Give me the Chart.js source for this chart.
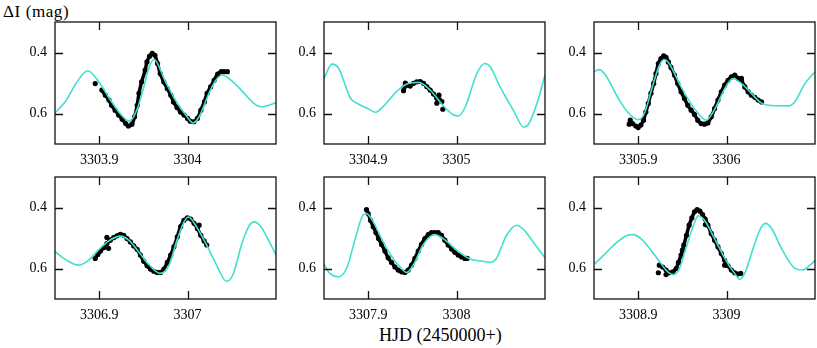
<!DOCTYPE html>
<html>
<head>
<meta charset="utf-8">
<script src="https://cdn.jsdelivr.net/npm/chart.js@4.4.1/dist/chart.umd.min.js"></script>
<style>
  html, body { margin: 0; padding: 0; background: #fff; }
  #wrap { position: relative; width: 817px; height: 348px; overflow: hidden; background: #fff; }
  #wrap canvas { position: absolute; }
  .lbl { position: absolute; font-family: 'Liberation Serif', 'Times New Roman', serif; color: #000; line-height: 1; white-space: nowrap; }
</style>
</head>
<body>
<div id="wrap">
  <div class="lbl" style="left:3px; top:3px; font-size:17px; letter-spacing:0.6px;">ΔI (mag)</div>
  <div class="lbl" style="left:379px; top:326px; font-size:18px;">HJD (2450000+)</div>
</div>
<script>
// Panel x ranges (HJD - 2450000), each 0.25 d wide
const panelStart = [3303.85, 3304.85, 3305.85, 3306.85, 3307.85, 3308.85];
const xTickLabels = [
    ['3303.9', '3304'], ['3304.9', '3305'], ['3305.9', '3306'],
    ['3306.9', '3307'], ['3307.9', '3308'], ['3308.9', '3309']
];
const yTickLabels = ['0.4', '0.6'];

// Model light curve (cyan), one list per panel
const modelHJD = [
    [3303.85, 3303.862, 3303.875, 3303.887, 3303.9, 3303.9125, 3303.925, 3303.934, 3303.9425, 3303.95, 3303.956, 3303.962, 3303.975, 3303.9875, 3304.0, 3304.006, 3304.0125, 3304.025, 3304.032, 3304.039, 3304.05, 3304.0625, 3304.075, 3304.083, 3304.1],
    [3304.85, 3304.859, 3304.8666, 3304.880, 3304.887, 3304.899, 3304.908, 3304.917, 3304.932, 3304.944, 3304.957, 3304.970, 3304.985, 3304.996, 3305.002, 3305.010, 3305.023, 3305.032, 3305.038, 3305.049, 3305.064, 3305.076, 3305.081, 3305.091, 3305.1],
    [3305.85, 3305.856, 3305.863, 3305.8765, 3305.888, 3305.900, 3305.907, 3305.916, 3305.924, 3305.9295, 3305.935, 3305.9485, 3305.9636, 3305.977, 3305.986, 3305.998, 3306.007, 3306.017, 3306.028, 3306.039, 3306.051, 3306.070, 3306.077, 3306.0886, 3306.1],
    [3306.85, 3306.865, 3306.8765, 3306.888, 3306.899, 3306.9106, 3306.924, 3306.9334, 3306.9447, 3306.956, 3306.969, 3306.979, 3306.988, 3306.996, 3307.001, 3307.009, 3307.0206, 3307.032, 3307.044, 3307.051, 3307.062, 3307.070, 3307.0755, 3307.083, 3307.0925, 3307.1],
    [3307.85, 3307.8566, 3307.866, 3307.8755, 3307.887, 3307.894, 3307.898, 3307.9057, 3307.917, 3307.928, 3307.9377, 3307.9434, 3307.951, 3307.962, 3307.9697, 3307.9754, 3307.9848, 3308.0, 3308.015, 3308.030, 3308.0376, 3308.045, 3308.0565, 3308.0678, 3308.0753, 3308.0866, 3308.1],
    [3308.85, 3308.861, 3308.8765, 3308.888, 3308.8936, 3308.903, 3308.9144, 3308.9258, 3308.9334, 3308.940, 3308.9466, 3308.954, 3308.962, 3308.968, 3308.975, 3308.9864, 3308.998, 3309.009, 3309.015, 3309.0205, 3309.030, 3309.0384, 3309.044, 3309.051, 3309.062, 3309.0755, 3309.0857, 3309.0945, 3309.1]
];
const modelMag = [
    [0.598, 0.560, 0.496, 0.460, 0.498, 0.555, 0.605, 0.625, 0.589, 0.518, 0.452, 0.423, 0.496, 0.562, 0.613, 0.631, 0.613, 0.528, 0.491, 0.474, 0.493, 0.529, 0.567, 0.578, 0.565],
    [0.485, 0.438, 0.452, 0.550, 0.566, 0.583, 0.596, 0.577, 0.528, 0.503, 0.498, 0.523, 0.575, 0.604, 0.608, 0.577, 0.468, 0.436, 0.447, 0.512, 0.588, 0.645, 0.637, 0.566, 0.474],
    [0.463, 0.456, 0.474, 0.545, 0.595, 0.620, 0.600, 0.513, 0.442, 0.423, 0.436, 0.513, 0.584, 0.622, 0.589, 0.518, 0.485, 0.502, 0.534, 0.565, 0.574, 0.575, 0.562, 0.502, 0.463],
    [0.545, 0.576, 0.589, 0.573, 0.540, 0.510, 0.494, 0.507, 0.545, 0.587, 0.616, 0.589, 0.507, 0.447, 0.431, 0.458, 0.518, 0.584, 0.642, 0.622, 0.513, 0.458, 0.447, 0.463, 0.513, 0.556],
    [0.587, 0.616, 0.627, 0.600, 0.485, 0.425, 0.420, 0.447, 0.513, 0.567, 0.600, 0.613, 0.589, 0.523, 0.496, 0.489, 0.502, 0.540, 0.569, 0.576, 0.580, 0.567, 0.491, 0.458, 0.471, 0.513, 0.565],
    [0.587, 0.556, 0.513, 0.491, 0.489, 0.502, 0.540, 0.584, 0.611, 0.620, 0.600, 0.534, 0.463, 0.427, 0.442, 0.502, 0.567, 0.616, 0.635, 0.616, 0.534, 0.469, 0.452, 0.469, 0.534, 0.595, 0.605, 0.589, 0.573]
];

// Observations (black dots), main run per panel
const obsHJD = [
    [3303.903, 3303.907, 3303.911, 3303.914, 3303.918, 3303.922, 3303.926, 3303.930, 3303.933, 3303.937, 3303.940, 3303.943, 3303.945, 3303.948, 3303.952, 3303.954, 3303.957, 3303.960, 3303.963, 3303.966, 3303.969, 3303.973, 3303.977, 3303.981, 3303.984, 3303.988, 3303.992, 3303.996, 3304.000, 3304.003, 3304.007, 3304.011, 3304.015, 3304.019, 3304.022, 3304.026, 3304.030, 3304.034, 3304.038, 3304.041, 3304.045],
    [3304.9407, 3304.9437, 3304.9475, 3304.9513, 3304.955, 3304.9588, 3304.9626, 3304.9663, 3304.9701, 3304.9739, 3304.9776, 3304.9807, 3304.9833],
    [3305.891, 3305.8936, 3305.8974, 3305.900, 3305.903, 3305.906, 3305.9087, 3305.9114, 3305.9144, 3305.9175, 3305.9201, 3305.9228, 3305.9258, 3305.9288, 3305.9315, 3305.9341, 3305.9371, 3305.941, 3305.9447, 3305.9485, 3305.9523, 3305.9561, 3305.9599, 3305.9636, 3305.9674, 3305.9712, 3305.975, 3305.9788, 3305.9826, 3305.9864, 3305.9902, 3305.994, 3305.9978, 3306.0016, 3306.0054, 3306.0092, 3306.013, 3306.0168, 3306.0206, 3306.0244, 3306.0281, 3306.0319, 3306.0357, 3306.0395],
    [3306.8955, 3306.8985, 3306.9015, 3306.905, 3306.9087, 3306.9125, 3306.9163, 3306.9201, 3306.9239, 3306.9277, 3306.9315, 3306.9353, 3306.9391, 3306.9429, 3306.9466, 3306.9504, 3306.9542, 3306.958, 3306.9618, 3306.9656, 3306.9694, 3306.9732, 3306.977, 3306.9808, 3306.9845, 3306.9883, 3306.9921, 3306.9959, 3306.9997, 3307.0035, 3307.0073, 3307.0111, 3307.0149, 3307.0187, 3307.0217],
    [3307.8981, 3307.9, 3307.9026, 3307.9057, 3307.9087, 3307.9117, 3307.9151, 3307.9189, 3307.9226, 3307.9264, 3307.9302, 3307.9339, 3307.9377, 3307.9415, 3307.9452, 3307.949, 3307.9528, 3307.9566, 3307.9603, 3307.9641, 3307.9679, 3307.9716, 3307.9754, 3307.9792, 3307.9829, 3307.9867, 3307.9905, 3307.9943, 3307.998, 3308.0018, 3308.0056, 3308.0093, 3308.012],
    [3308.9239, 3308.9277, 3308.9315, 3308.9353, 3308.9391, 3308.9429, 3308.9455, 3308.9485, 3308.9516, 3308.9546, 3308.9576, 3308.9607, 3308.9637, 3308.9667, 3308.9698, 3308.9728, 3308.9758, 3308.9789, 3308.9826, 3308.9864, 3308.9902, 3308.994, 3308.9978, 3309.0016, 3309.0054, 3309.0092, 3309.013, 3309.016]
];
const obsMag = [
    [0.523, 0.540, 0.556, 0.573, 0.589, 0.605, 0.619, 0.633, 0.641, 0.635, 0.611, 0.573, 0.534, 0.496, 0.458, 0.431, 0.412, 0.403, 0.409, 0.436, 0.469, 0.496, 0.518, 0.540, 0.562, 0.580, 0.595, 0.605, 0.616, 0.625, 0.627, 0.616, 0.589, 0.562, 0.534, 0.513, 0.491, 0.471, 0.463, 0.463, 0.463],
    [0.514, 0.507, 0.510, 0.501, 0.496, 0.495, 0.501, 0.512, 0.523, 0.536, 0.550, 0.555, 0.561],
    [0.622, 0.633, 0.641, 0.646, 0.638, 0.622, 0.595, 0.567, 0.534, 0.502, 0.469, 0.436, 0.420, 0.411, 0.416, 0.431, 0.449, 0.474, 0.502, 0.529, 0.551, 0.573, 0.589, 0.603, 0.622, 0.633, 0.635, 0.631, 0.611, 0.584, 0.556, 0.529, 0.507, 0.491, 0.480, 0.474, 0.485, 0.491, 0.513, 0.529, 0.540, 0.547, 0.556, 0.562],
    [0.567, 0.554, 0.543, 0.532, 0.518, 0.507, 0.499, 0.493, 0.488, 0.491, 0.502, 0.513, 0.526, 0.537, 0.556, 0.576, 0.591, 0.602, 0.609, 0.613, 0.613, 0.602, 0.580, 0.556, 0.529, 0.496, 0.463, 0.442, 0.434, 0.438, 0.452, 0.469, 0.491, 0.510, 0.523],
    [0.407, 0.420, 0.442, 0.463, 0.482, 0.502, 0.521, 0.543, 0.565, 0.580, 0.595, 0.605, 0.611, 0.613, 0.605, 0.589, 0.567, 0.543, 0.521, 0.502, 0.489, 0.482, 0.482, 0.482, 0.491, 0.507, 0.523, 0.536, 0.547, 0.556, 0.562, 0.567, 0.567],
    [0.589, 0.595, 0.605, 0.614, 0.611, 0.600, 0.580, 0.556, 0.523, 0.491, 0.458, 0.434, 0.414, 0.407, 0.412, 0.423, 0.438, 0.458, 0.485, 0.507, 0.529, 0.551, 0.573, 0.591, 0.605, 0.614, 0.618, 0.616]
];

// Scattered single points off the main run
const strayHJD = [
    [3303.8955],
    [3304.9400, 3304.9420, 3304.9776, 3304.9844, 3304.9800],
    [3305.8898, 3306.0168],
    [3306.9087, 3306.9106, 3307.0130],
    [],
    [3308.9228, 3308.9315, 3308.9500, 3308.9978, 3308.9760]
];
const strayMag = [
    [0.502],
    [0.525, 0.500, 0.566, 0.586, 0.540],
    [0.635, 0.485],
    [0.498, 0.534, 0.458],
    [],
    [0.614, 0.620, 0.540, 0.589, 0.456]
];

const FONT = "'Liberation Serif', 'Times New Roman', serif";
const CYAN = 'rgb(64, 224, 208)';

// plot-area positions in the page
const plotLeft = [55, 324, 594];
const plotTop = [22, 177];
const PLOT_W = 221, PLOT_H = 122;
const AXIS_W = 50, AXIS_H = 30, PAD_TOP = 5, PAD_RIGHT = 6;

function toPoints(xs, ys) {
    return xs.map((x, i) => ({ x: x, y: ys[i] }));
}

// Box round the plot plus inward tick marks on all four sides
const framePlugin = {
    id: 'frame',
    afterDraw(chart) {
        const ctx = chart.ctx;
        const a = chart.chartArea;
        const xs = chart.scales.x, ys = chart.scales.y;
        const len = 8, eps = 1e-6;
        ctx.save();
        ctx.strokeStyle = '#111';
        ctx.lineWidth = 1.3;
        ctx.strokeRect(a.left, a.top, a.right - a.left, a.bottom - a.top);
        ctx.beginPath();
        xs.ticks.forEach(t => {
            if (t.value <= xs.min + eps || t.value >= xs.max - eps) return;
            const px = Math.round(xs.getPixelForValue(t.value)) + 0.5;
            ctx.moveTo(px, a.bottom); ctx.lineTo(px, a.bottom - len);
            ctx.moveTo(px, a.top); ctx.lineTo(px, a.top + len);
        });
        ys.ticks.forEach(t => {
            if (t.value <= ys.min + eps || t.value >= ys.max - eps) return;
            const py = Math.round(ys.getPixelForValue(t.value)) + 0.5;
            ctx.moveTo(a.left, py); ctx.lineTo(a.left + len, py);
            ctx.moveTo(a.right, py); ctx.lineTo(a.right - len, py);
        });
        ctx.stroke();
        ctx.restore();
    }
};

function makePanel(i) {
    const col = i % 3, row = Math.floor(i / 3);
    const canvas = document.createElement('canvas');
    canvas.width = AXIS_W + PLOT_W + PAD_RIGHT;
    canvas.height = PAD_TOP + PLOT_H + AXIS_H;
    canvas.style.left = (plotLeft[col] - AXIS_W) + 'px';
    canvas.style.top = (plotTop[row] - PAD_TOP) + 'px';
    document.getElementById('wrap').appendChild(canvas);

    const labels = xTickLabels[i];

    new Chart(canvas.getContext('2d'), {
        type: 'scatter',
        data: {
            datasets: [
                {
                    // model curve drawn on top
                    data: toPoints(modelHJD[i], modelMag[i]),
                    showLine: true,
                    borderColor: CYAN,
                    borderWidth: 1.6,
                    pointRadius: 0,
                    cubicInterpolationMode: 'monotone'
                },
                {
                    data: toPoints(obsHJD[i], obsMag[i]),
                    showLine: true,
                    borderColor: '#000',
                    borderWidth: 3.5,
                    backgroundColor: '#000',
                    pointRadius: 2.6,
                    pointBorderWidth: 0,
                    tension: 0.3
                },
                {
                    data: toPoints(strayHJD[i], strayMag[i]),
                    showLine: false,
                    backgroundColor: '#000',
                    pointRadius: 2.6,
                    pointBorderWidth: 0
                }
            ]
        },
        options: {
            responsive: false,
            animation: false,
            devicePixelRatio: 1,
            layout: { padding: { top: PAD_TOP, right: PAD_RIGHT, left: 0, bottom: 0 } },
            plugins: { legend: { display: false }, tooltip: { enabled: false } },
            scales: {
                x: {
                    type: 'linear',
                    min: panelStart[i],
                    max: panelStart[i] + 0.25,
                    // fixed axis size, no label-overflow padding
                    afterFit: s => {
                        s.height = AXIS_H;
                        s.paddingLeft = 0;
                        s.paddingRight = 0;
                    },
                    grid: { display: false, drawTicks: false },
                    border: { display: false },
                    ticks: {
                        stepSize: 0.05,
                        autoSkip: false,
                        maxRotation: 0,
                        padding: 8,
                        color: '#000',
                        font: { family: FONT, size: 14 },
                        callback: v => {
                            const s = String(Math.round(v * 100) / 100);
                            return labels.includes(s) ? s : null;
                        }
                    }
                },
                y: {
                    type: 'linear',
                    reverse: true,
                    min: 0.3,
                    max: 0.7,
                    afterFit: s => {
                        s.width = AXIS_W;
                        s.paddingTop = 0;
                        s.paddingBottom = 0;
                    },
                    grid: { display: false, drawTicks: false },
                    border: { display: false },
                    ticks: {
                        stepSize: 0.1,
                        padding: 8,
                        color: '#000',
                        font: { family: FONT, size: 14 },
                        callback: v => {
                            const s = (Math.round(v * 10) / 10).toFixed(1);
                            return yTickLabels.includes(s) ? s : null;
                        }
                    }
                }
            }
        },
        plugins: [framePlugin]
    });
}

for (let i = 0; i < 6; i++) {
    makePanel(i);
}
</script>
</body>
</html>
